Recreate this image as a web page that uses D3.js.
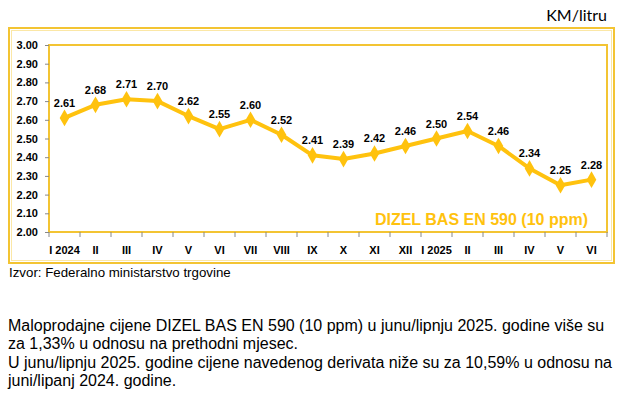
<!DOCTYPE html>
<html>
<head>
<meta charset="utf-8">
<script src="https://cdn.jsdelivr.net/npm/d3@7"></script>
<style>
  body { margin: 0; background: #fff; }
  svg { display: block; }
</style>
</head>
<body>
<script>
// months Jan 2024 - Jun 2025
const months = ["I 2024", "II", "III", "IV", "V", "VI", "VII", "VIII", "IX", "X", "XI", "XII",
                "I 2025", "II", "III", "IV", "V", "VI"];
const prices = [2.61, 2.68, 2.71, 2.70, 2.62, 2.55, 2.60, 2.52, 2.41, 2.39, 2.42, 2.46,
                2.50, 2.54, 2.46, 2.34, 2.25, 2.28];
const yTicks = [2.0, 2.1, 2.2, 2.3, 2.4, 2.5, 2.6, 2.7, 2.8, 2.9, 3.0];
const seriesName = "DIZEL BAS EN 590 (10 ppm)";
const unit = "KM/litru";
const source = "Izvor: Federalno ministarstvo trgovine";
const notes = [
  "Maloprodajne cijene DIZEL BAS EN 590 (10 ppm) u junu/lipnju 2025. godine više su",
  "za 1,33% u odnosu na prethodni mjesec.",
  "U junu/lipnju 2025. godine cijene navedenog derivata niže su za 10,59% u odnosu na",
  "juni/lipanj 2024. godine."
];

const W = 624, H = 399;
const gold = "#FFC20E";
const frame = "#F3C433";

const svg = d3.select("body").append("svg")
    .attr("width", W)
    .attr("height", H)
    .style("font-family", "'Liberation Sans', Arial, sans-serif");

// outer border of the chart box
svg.append("rect")
    .attr("x", 9).attr("y", 28)
    .attr("width", 605).attr("height", 235)
    .attr("fill", "none")
    .attr("stroke", frame)
    .attr("stroke-width", 2);
svg.append("rect")
    .attr("x", 11.5).attr("y", 30.5)
    .attr("width", 600).attr("height", 230)
    .attr("fill", "none")
    .attr("stroke", "#FBE7A6")
    .attr("stroke-width", 1);

const plot = { left: 49, right: 607, top: 45, bottom: 232 };

const x = d3.scaleBand()
    .domain(d3.range(months.length))
    .range([plot.left, plot.right]);

const y = d3.scaleLinear()
    .domain([2.0, 3.0])
    .range([plot.bottom, plot.top]);

// plot area frame
svg.append("rect")
    .attr("x", plot.left).attr("y", plot.top)
    .attr("width", plot.right - plot.left)
    .attr("height", plot.bottom - plot.top)
    .attr("fill", "none")
    .attr("stroke", frame)
    .attr("stroke-width", 2);

// y axis
const yAxis = svg.append("g")
    .attr("transform", `translate(${plot.left},0)`)
    .call(d3.axisLeft(y).tickValues(yTicks).tickFormat(d3.format(".2f")).tickSize(4).tickPadding(7));
yAxis.select(".domain").remove();
yAxis.selectAll(".tick line").attr("stroke", "#888");
yAxis.selectAll(".tick text")
    .attr("fill", "#000")
    .style("font-size", "11px")
    .style("font-weight", "bold")
    .style("font-family", "'Liberation Sans', Arial, sans-serif");

// x axis ticks at category boundaries
const bounds = d3.range(months.length + 1).map(i => plot.left + i * x.step());
svg.append("g").selectAll("line")
    .data(bounds)
    .join("line")
    .attr("x1", d => d).attr("x2", d => d)
    .attr("y1", plot.bottom).attr("y2", plot.bottom + 5)
    .attr("stroke", "#888");

svg.append("g").selectAll("text")
    .data(months)
    .join("text")
    .attr("x", (d, i) => x(i) + x.bandwidth() / 2)
    .attr("y", 254)
    .attr("text-anchor", "middle")
    .style("font-size", "11px")
    .style("font-weight", "bold")
    .text(d => d);

// series line
const line = d3.line()
    .x((d, i) => x(i) + x.bandwidth() / 2)
    .y(d => y(d));

svg.append("path")
    .datum(prices)
    .attr("d", line)
    .attr("fill", "none")
    .attr("stroke", gold)
    .attr("stroke-width", 4)
    .attr("stroke-linejoin", "round");

svg.append("g").selectAll("path")
    .data(prices)
    .join("path")
    .attr("transform", (d, i) => `translate(${x(i) + x.bandwidth() / 2},${y(d)})`)
    .attr("d", d3.symbol(d3.symbolDiamond, 80))
    .attr("fill", gold);

svg.append("g").selectAll("text")
    .data(prices)
    .join("text")
    .attr("x", (d, i) => x(i) + x.bandwidth() / 2)
    .attr("y", d => y(d) - 11)
    .attr("text-anchor", "middle")
    .style("font-size", "11px")
    .style("font-weight", "bold")
    .text(d => d.toFixed(2));

// series name inside plot
svg.append("text")
    .attr("x", 588)
    .attr("y", 225)
    .attr("text-anchor", "end")
    .attr("fill", gold)
    .style("font-size", "16px")
    .style("font-weight", "bold")
    .text(seriesName);

// unit
svg.append("text")
    .attr("x", 607)
    .attr("y", 21)
    .attr("text-anchor", "end")
    .style("font-family", "Lato, sans-serif")
    .style("font-size", "16px")
    .text(unit);

// source
svg.append("text")
    .attr("x", 9)
    .attr("y", 277)
    .style("font-size", "13.3px")
    .text(source);

// notes
svg.append("g").selectAll("text")
    .data(notes)
    .join("text")
    .attr("x", 8)
    .attr("y", (d, i) => 331 + i * 18.3)
    .style("font-size", "16px")
    .text(d => d);
</script>
</body>
</html>
